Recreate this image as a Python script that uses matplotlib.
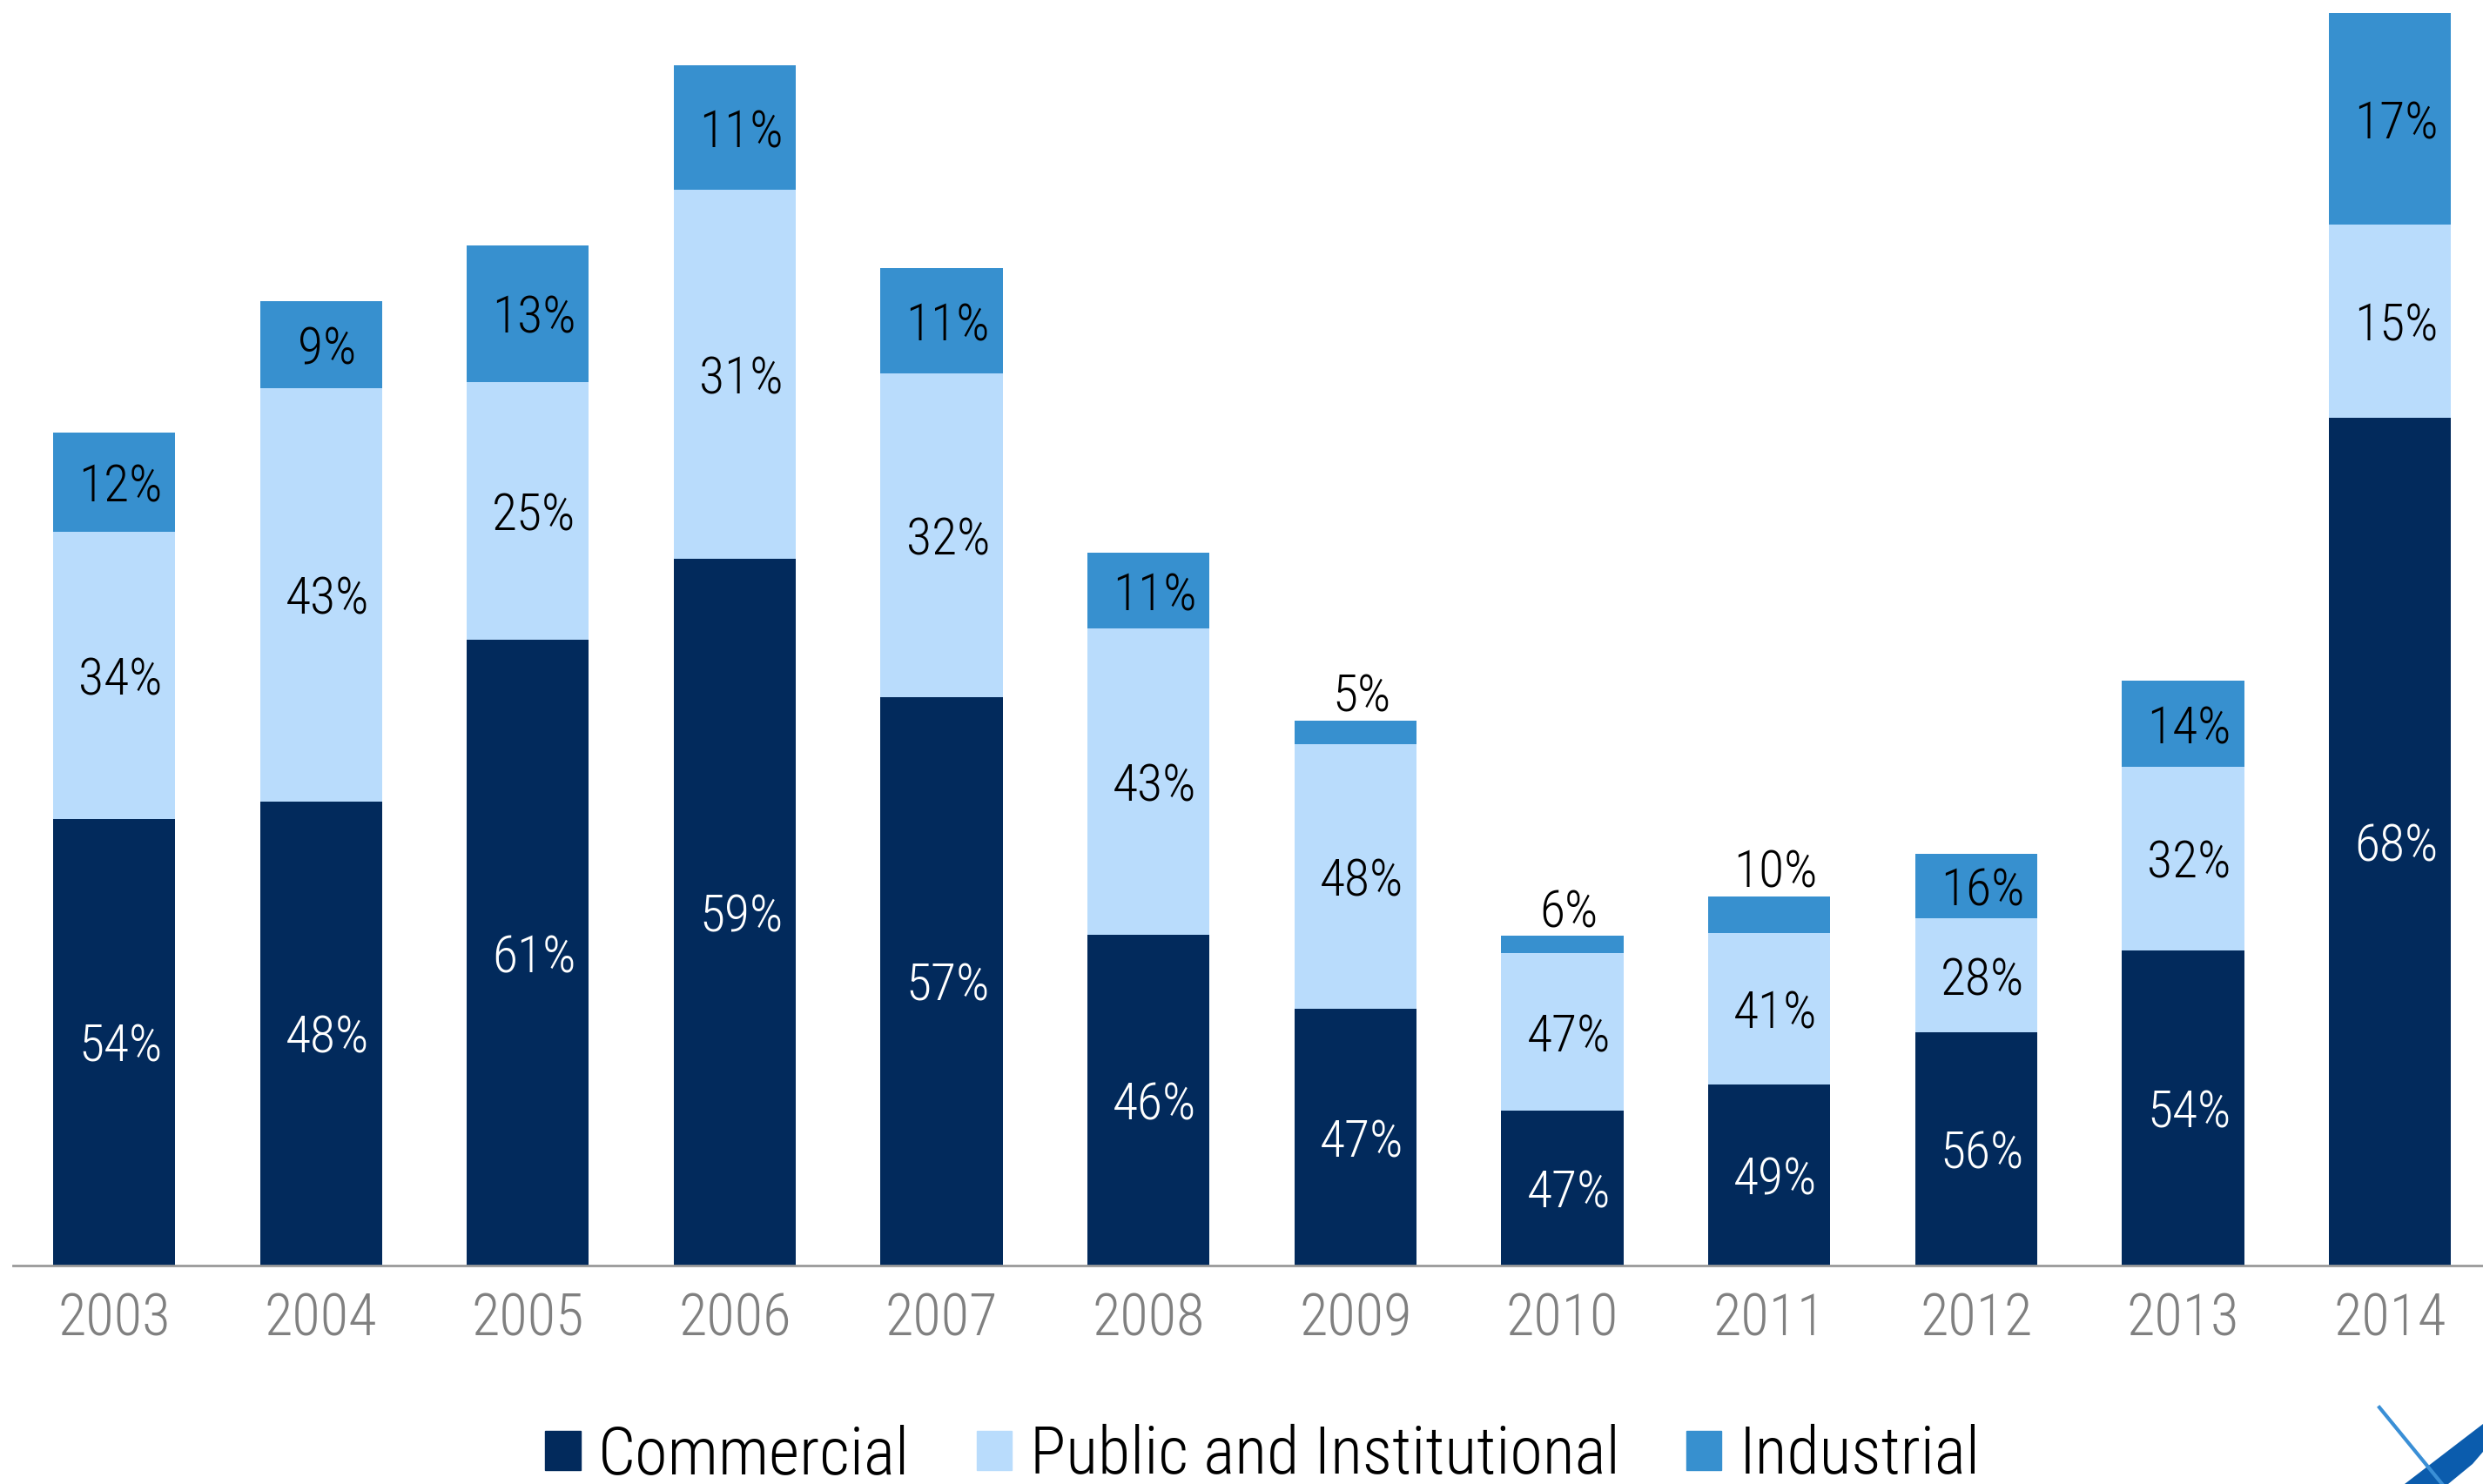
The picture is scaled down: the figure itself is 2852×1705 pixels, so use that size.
import os
import matplotlib
matplotlib.use("Agg")
import matplotlib.pyplot as plt
from matplotlib.patches import Patch, Polygon
from matplotlib.lines import Line2D
from matplotlib import font_manager

years = ["2003", "2004", "2005", "2006", "2007", "2008", "2009", "2010", "2011", "2012", "2013", "2014"]
commercial = [282, 293, 395, 446, 359, 209, 162, 98, 114, 147, 199, 535]
public = [181, 261, 163, 233, 204, 193, 167, 99, 96, 72, 116, 122]
industrial = [63, 55, 86, 79, 67, 48, 15, 11, 23, 41, 54, 134]
com_pct = ["54%", "48%", "61%", "59%", "57%", "46%", "47%", "47%", "49%", "56%", "54%", "68%"]
pub_pct = ["34%", "43%", "25%", "31%", "32%", "43%", "48%", "47%", "41%", "28%", "32%", "15%"]
ind_pct = ["12%", "9%", "13%", "11%", "11%", "11%", "5%", "6%", "10%", "16%", "14%", "17%"]
series_names = ["Commercial", "Public and Institutional", "Industrial"]

# find a condensed / narrow font file if one is installed
prefs = ["liberationsansnarrow-regular", "robotocondensed-light", "robotocondensed-regular",
         "opensans_condensed-light", "opensanscondensed-light", "opensans_condensed-regular",
         "opensans-condensedregular", "dejavusanscondensed.ttf", "notosans-condensed.ttf",
         "notosans-condensedlight", "lato-light"]
files = [f.fname for f in font_manager.fontManager.ttflist]
chosen = None
for p in prefs:
    for fn in files:
        if p in os.path.basename(fn).lower():
            chosen = fn
            break
    if chosen:
        break
if chosen is None:
    for fn in files:
        b = os.path.basename(fn).lower()
        if ("condensed" in b or "narrow" in b) and "bold" not in b and "italic" not in b and "oblique" not in b:
            chosen = fn
            break

def fp(size):
    if chosen:
        return font_manager.FontProperties(fname=chosen, size=size)
    return font_manager.FontProperties(family="DejaVu Sans", size=size)

c_com = "#022A5C"
c_pub = "#B9DCFC"
c_ind = "#3790CF"

W, H = 2852, 1705
fig = plt.figure(figsize=(W / 100, H / 100), dpi=100)
ax = fig.add_axes([0.0051, 0.1473, 0.9949, 0.8527])

x = list(range(len(years)))
w = 0.59
ax.bar(x, commercial, w, color=c_com)
bot2 = commercial
ax.bar(x, public, w, bottom=bot2, color=c_pub)
bot3 = [a + b for a, b in zip(commercial, public)]
ax.bar(x, industrial, w, bottom=bot3, color=c_ind)

fs = 43
dy = -3.5
dx = 0.03
for i in x:
    ax.text(i + dx, commercial[i] / 2 + dy, com_pct[i], ha="center", va="center", color="white", fontproperties=fp(fs))
    ax.text(i + dx, bot2[i] + public[i] / 2 + dy, pub_pct[i], ha="center", va="center", color="black", fontproperties=fp(fs))
    if industrial[i] >= 35:
        ax.text(i + dx, bot3[i] + industrial[i] / 2 + dy, ind_pct[i], ha="center", va="center", color="black", fontproperties=fp(fs))
    else:
        ax.text(i + dx, bot3[i] + industrial[i] - 1, ind_pct[i], ha="center", va="bottom", color="black", fontproperties=fp(fs))

ax.set_xlim(-0.49, 11.45)
ax.set_ylim(0, 799)
for s in ["top", "right", "left"]:
    ax.spines[s].set_visible(False)
ax.spines["bottom"].set_color("#999999")
ax.spines["bottom"].set_linewidth(2)
ax.set_yticks([])
ax.set_xticks(x)
ax.set_xticklabels(years, color="#808080")
for t in ax.get_xticklabels():
    t.set_fontproperties(fp(48))
ax.tick_params(axis="x", length=0, pad=22)

handles = [Patch(color=c_com), Patch(color=c_pub), Patch(color=c_ind)]
fig.legend(handles, series_names, loc="center", bbox_to_anchor=(0.5086, 0.019), ncol=3,
           frameon=False, prop=fp(55), handlelength=0.53, handleheight=0.53,
           handletextpad=0.27, columnspacing=1.0, borderpad=0)

# decorative corner logo fragment
def P(px, py):
    return (px / W, 1 - py / H)
fig.add_artist(Line2D([P(2733, 1617)[0], P(2805, 1705)[0]], [P(2733, 1617)[1], P(2805, 1705)[1]],
                      transform=fig.transFigure, color="#3A8FD6", linewidth=3))
fig.add_artist(Polygon([P(2762, 1705), P(2852, 1636), P(2852, 1668), P(2840, 1682), P(2812, 1705)],
                       closed=True, transform=fig.transFigure, facecolor="#0B5CAD", edgecolor="none"))

fig.savefig("out.png", dpi=100)
